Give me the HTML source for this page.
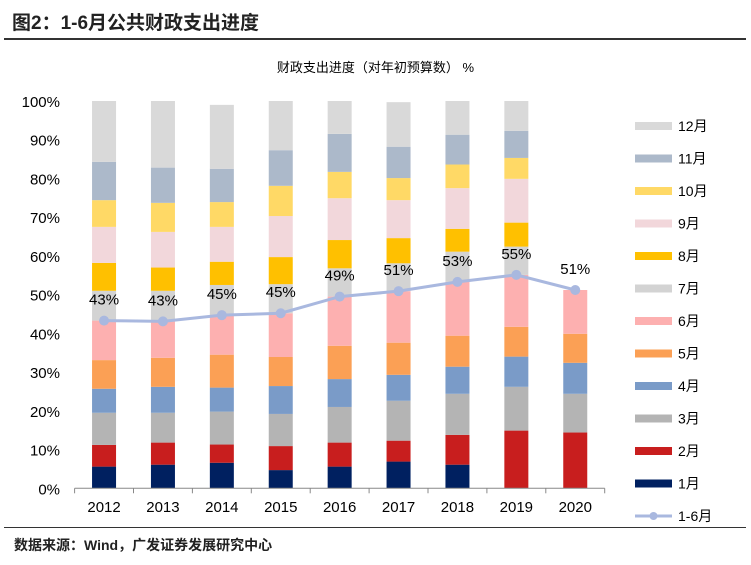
<!DOCTYPE html>
<html><head><meta charset="utf-8">
<style>
body{margin:0;background:#fff;width:751px;height:565px;overflow:hidden;font-family:"Liberation Sans","Noto Sans CJK SC",sans-serif;}
.t{position:absolute;white-space:nowrap;}
</style></head>
<body>
<div class="t" style="left:12px;top:8px;font-size:19px;font-weight:bold;color:#222;">图2：1-6月公共财政支出进度</div>
<div style="position:absolute;left:4px;top:38px;width:742px;height:2px;background:#333;"></div>
<div class="t" style="left:0;width:751px;text-align:center;top:57px;font-size:13px;color:#000;">财政支出进度（对年初预算数） %</div>
<svg id="chart" width="751" height="565" style="position:absolute;left:0;top:0"></svg>
<div style="position:absolute;left:4px;top:527px;width:742px;height:1px;background:#333;"></div>
<div class="t" style="left:14px;top:535px;font-size:14px;font-weight:bold;color:#222;">数据来源：Wind，广发证券发展研究中心</div>
<script>
const years=["2012","2013","2014","2015","2016","2017","2018","2019","2020"];
const months=["1月","2月","3月","4月","5月","6月","7月","8月","9月","10月","11月","12月"];
const m1=[5.6,6.1,6.6,4.7,5.6,6.9,6.1,0,0];
const m2=[5.6,5.7,4.7,6.2,6.2,5.4,7.7,14.9,14.4];
const m3=[8.3,7.7,8.5,8.3,9.2,10.3,10.6,11.3,10.0];
const m4=[6.2,6.7,6.2,7.2,7.2,6.7,7.0,7.8,8.0];
const m5=[7.4,7.5,8.5,7.5,8.6,8.3,8.0,7.7,7.5];
const m6=[10.2,9.4,10.2,11.3,12.7,13.3,13.9,13.4,11.3];
const m7=[7.7,7.9,7.8,7.5,7.3,7.2,7.8,7.3,0];
const m8=[7.2,6.0,6.0,7.0,7.3,6.5,5.9,6.2,0];
const m9=[9.3,9.2,9.0,10.6,10.8,9.8,10.5,11.3,0];
const m10=[6.9,7.5,6.4,7.8,6.8,5.7,6.1,5.4,0];
const m11=[9.9,9.1,8.6,9.2,9.8,8.1,7.7,7.0,0];
const m12=[15.7,17.2,16.5,12.7,8.5,11.5,8.7,7.7,0];
const h1=[43.3,43.1,44.7,45.2,49.5,50.9,53.3,55.1,51.2];
const lineLabels=["43%","43%","45%","45%","49%","51%","53%","55%","51%"];
const yTicks=[0,10,20,30,40,50,60,70,80,90,100];
const series=[m1,m2,m3,m4,m5,m6,m7,m8,m9,m10,m11,m12];
const colors=["#002060","#C81E1E","#B4B4B4","#7A9BC8","#FBA055","#FDB0B0","#D3D3D3","#FFC000","#F2D7DB","#FFD966","#ACB9CA","#D9D9D9"];
const NS="http://www.w3.org/2000/svg";
const svg=document.getElementById('chart');
const x0=74.6,step=58.9,y0=488.3,yTop=101;
const xs=i=>x0+step*(i+0.5);
const ys=v=>y0-(y0-yTop)*v/100;
function mk(t,a){const e=document.createElementNS(NS,t);for(const k in a)e.setAttribute(k,a[k]);svg.appendChild(e);return e;}
yTicks.forEach(v=>{
  const t=mk('text',{x:60,y:ys(v)+6,'text-anchor':'end','font-size':15,fill:'#000','font-family':'Liberation Sans, sans-serif'});
  t.textContent=v+'%';
  
  
});
years.forEach((y,i)=>{
  let cum=0;
  series.forEach((s,k)=>{
    const v=s[i];
    if(v>0){
      const r=mk('rect',{x:xs(i)-12,y:ys(cum+v),width:24,height:ys(cum)-ys(cum+v),fill:colors[k]});
      
      
    }
    cum+=v;
  });
  const t=mk('text',{x:xs(i),y:512,'text-anchor':'middle','font-size':15,fill:'#000','font-family':'Liberation Sans, sans-serif'});
  t.textContent=y;
  
  
});
const ax=mk('line',{x1:x0,y1:y0,x2:x0+step*9,y2:y0,stroke:'#888','stroke-width':1});


for(let i=0;i<=9;i++){
  const tk=mk('line',{x1:x0+step*i,y1:y0,x2:x0+step*i,y2:y0+5,stroke:'#888'});
  
  
}
const pl=mk('polyline',{points:h1.map((v,i)=>xs(i)+','+ys(v)).join(' '),fill:'none',stroke:'#A9B8DF','stroke-width':3});


h1.forEach((v,i)=>{
  const c=mk('circle',{cx:xs(i),cy:ys(v),r:5,fill:'#A9B8DF'});
  
  
  const t=mk('text',{x:xs(i),y:ys(v)-16,'text-anchor':'middle','font-size':15,fill:'#000','font-family':'Liberation Sans, sans-serif'});
  t.textContent=lineLabels[i];
  
  
});
const legItems=months.slice().reverse();
legItems.forEach((m,j)=>{
  const k=11-j, y=126+j*32.5;
  const r=mk('rect',{x:635,y:y-4,width:37,height:8,fill:colors[k]});
  
  
  const t=mk('text',{x:678,y:y+5,'font-size':14,fill:'#000','font-family':'Liberation Sans, Noto Sans CJK SC, sans-serif'});
  t.textContent=m;
  
  
});
const ly=126+12*32.5;
const ll=mk('line',{x1:635,y1:ly,x2:672,y2:ly,stroke:'#A9B8DF','stroke-width':3});


const lc=mk('circle',{cx:653.5,cy:ly,r:4,fill:'#A9B8DF'});


const lt=mk('text',{x:678,y:ly+5,'font-size':14,fill:'#000','font-family':'Liberation Sans, Noto Sans CJK SC, sans-serif'});
lt.textContent='1-6月';


</script>
</body></html>
